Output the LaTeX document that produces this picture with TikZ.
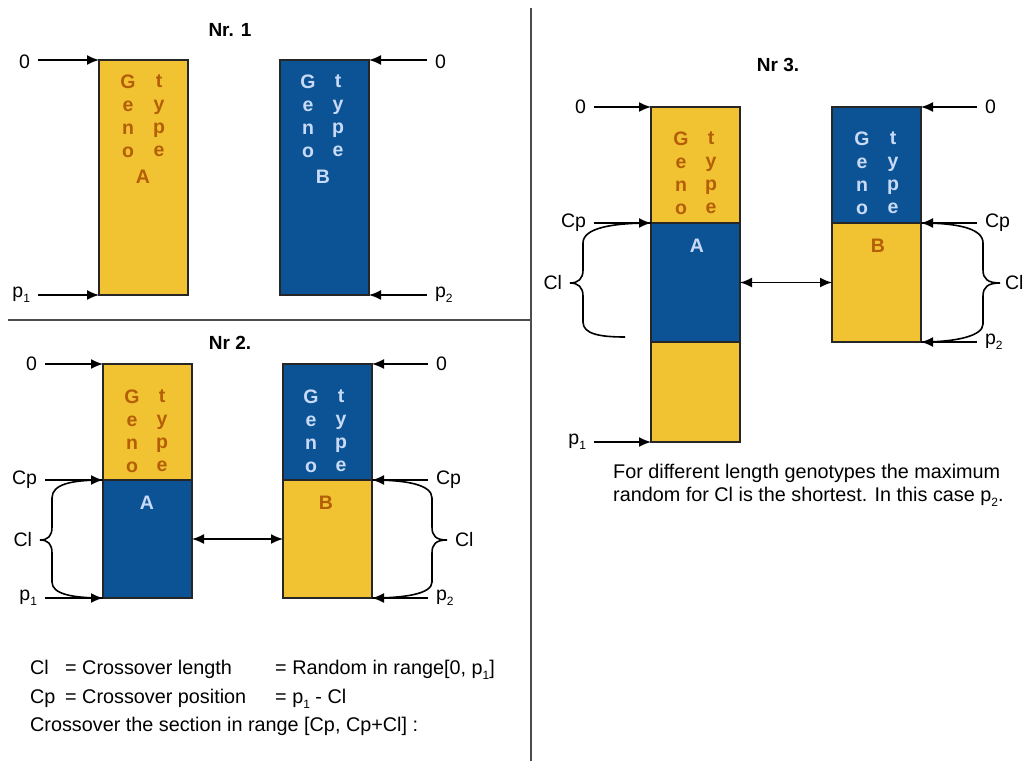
\documentclass[tikz,border=0pt]{standalone}
\usepackage{fontspec}
\setmainfont{Liberation Sans}
\usetikzlibrary{arrows.meta}
\definecolor{gyellow}{HTML}{F1C232}
\definecolor{gblue}{HTML}{0B5394}
\definecolor{gorange}{HTML}{B45F06}
\definecolor{glight}{HTML}{C9DAF8}
\newcommand{\lowsub}[1]{\raisebox{-0.5ex}{\fontsize{12}{12}\selectfont #1}}
\begin{document}
\begin{tikzpicture}[x=1pt,y=-1pt,
   seg/.style={draw=black!85,line width=1.8pt,anchor=north west,minimum width=89,inner sep=0pt,outer sep=0pt},
   yseg/.style={seg,fill=gyellow},
   bseg/.style={seg,fill=gblue},
   otxt/.style={text=gorange,font=\bfseries\fontsize{19.5}{23}\selectfont,align=center},
   ltxt/.style={text=glight,font=\bfseries\fontsize{19.5}{23}\selectfont,align=center},
   lbl/.style={font=\fontsize{19.5}{22}\selectfont,inner sep=1pt,outer sep=7pt},
   ttl/.style={font=\bfseries\fontsize{19}{22}\selectfont},
   txt/.style={font=\fontsize{19.8}{23}\selectfont,anchor=base west,inner sep=0pt},
   arr/.style={-{Latex[length=12pt,width=10pt]},line width=1.6pt},
   dbl/.style={{Latex[length=12pt,width=10pt]}-{Latex[length=12pt,width=10pt]},line width=1.6pt},
   brc/.style={line width=1.6pt},
   sep/.style={draw=black!70,line width=2.2pt}]
\useasboundingbox (0,0) rectangle (1024,761);
\draw[sep] (531,8) -- (531,761);
\draw[sep] (8,320) -- (531,320);

% Nr. 1
\node[ttl] (t1) at (230,30) {Nr. 1};
\node[yseg,minimum height=235] (A1) at (99,60) {};
\node[bseg,minimum height=235] (B1) at (280,60) {};
\node[otxt] (A1g) at (128,116) {G\\e\\n\\o};
\node[otxt] (A1t) at (159,116) {t\\y\\p\\e};
\node[otxt] (A1n) at (143,177) {A};
\node[ltxt] (B1g) at (308,116) {G\\e\\n\\o};
\node[ltxt] (B1t) at (338,116) {t\\y\\p\\e};
\node[ltxt] (B1n) at (323,177) {B};
\node[lbl,anchor=east] (z1) at (38,62) {0};
\node[lbl,anchor=east] (p1a) at (38,295) {p\lowsub{1}};
\node[lbl,anchor=west] (z1r) at (427,62) {0};
\node[lbl,anchor=west] (p2a) at (427,295) {p\lowsub{2}};
\draw[arr] (z1.east |- A1.north west) -- (A1.north west);
\draw[arr] (p1a.east |- A1.south west) -- (A1.south west);
\draw[arr] (z1r.west |- B1.north east) -- (B1.north east);
\draw[arr] (p2a.west |- B1.south east) -- (B1.south east);

% Nr 2.
\node[ttl] (t2) at (230,343) {Nr 2.};
\node[yseg,minimum height=116] (A2t) at (103,364) {};
\node[bseg,minimum height=118] (A2b) at (103,480) {};
\node[bseg,minimum height=116] (B2t) at (283,364) {};
\node[yseg,minimum height=118] (B2b) at (283,480) {};
\node[otxt] (A2g) at (132,431) {G\\e\\n\\o};
\node[otxt] (A2y) at (162,431) {t\\y\\p\\e};
\node[ltxt] (A2n) at (147,503) {A};
\node[ltxt] (B2g) at (311,431) {G\\e\\n\\o};
\node[ltxt] (B2y) at (341,431) {t\\y\\p\\e};
\node[otxt] (B2n) at (326,503) {B};
\node[lbl,anchor=east] (z2) at (45,364) {0};
\node[lbl,anchor=east] (cp2) at (45,480) {Cp};
\node[lbl,anchor=east] (cl2) at (40,540) {Cl};
\node[lbl,anchor=east] (p1b) at (45,598) {p\lowsub{1}};
\node[lbl,anchor=west] (z2r) at (428,364) {0};
\node[lbl,anchor=west] (cp2r) at (428,480) {Cp};
\node[lbl,anchor=west] (cl2r) at (447,540) {Cl};
\node[lbl,anchor=west] (p2b) at (428,598) {p\lowsub{2}};
\draw[arr] (z2.east |- A2t.north west) -- (A2t.north west);
\draw[arr] (cp2.east |- A2b.north west) -- (A2b.north west);
\draw[arr] (p1b.east |- A2b.south west) -- (A2b.south west);
\draw[arr] (z2r.west |- B2t.north east) -- (B2t.north east);
\draw[arr] (cp2r.west |- B2b.north east) -- (B2b.north east);
\draw[arr] (p2b.west |- B2b.south east) -- (B2b.south east);
\draw[brc] (A2b.north west) .. controls (72,480) and (52,484) .. (52,498) -- (52,527)
   .. controls (52,536) and (48,540) .. (cl2.east) .. controls (48,540) and (52,544) .. (52,553)
   -- (52,582) .. controls (52,594) and (72,598) .. (A2b.south west);
\draw[brc] (B2b.north east) .. controls (404,480) and (432,484) .. (432,498) -- (432,527)
   .. controls (432,536) and (436,540) .. (cl2r.west) .. controls (436,540) and (432,544) .. (432,553)
   -- (432,582) .. controls (432,594) and (404,598) .. (B2b.south east);
\draw[dbl] (A2b.east) -- (B2b.west);

\node[txt] (n1) at (30,674) {Cl};
\node[txt] (n2) at (65,674) {= Crossover length};
\node[txt] (n3) at (275,674) {= Random in range[0, p\lowsub{1}]};
\node[txt] (n4) at (30,703) {Cp};
\node[txt] (n5) at (65,703) {= Crossover position};
\node[txt] (n6) at (275,703) {= p\lowsub{1} - Cl};
\node[txt] (n7) at (30,731) {Crossover the section in range [Cp, Cp+Cl] :};

% Nr 3.
\node[ttl] (t3) at (778,65) {Nr 3.};
\node[yseg,minimum height=116] (A3t) at (651,107) {};
\node[bseg,minimum height=119] (A3m) at (651,223) {};
\node[yseg,minimum height=100] (A3b) at (651,342) {};
\node[bseg,minimum height=116] (B3t) at (832,107) {};
\node[yseg,minimum height=119] (B3b) at (832,223) {};
\node[otxt] (A3g) at (681,173) {G\\e\\n\\o};
\node[otxt] (A3y) at (711,173) {t\\y\\p\\e};
\node[ltxt] (A3n) at (697,246) {A};
\node[ltxt] (B3g) at (862,173) {G\\e\\n\\o};
\node[ltxt] (B3y) at (893,173) {t\\y\\p\\e};
\node[otxt] (B3n) at (878,246) {B};
\node[lbl,anchor=east] (z3) at (594,107) {0};
\node[lbl,anchor=east] (cp3) at (594,223) {Cp};
\node[lbl,anchor=east] (cl3) at (570,283) {Cl};
\node[lbl,anchor=east] (p1c) at (594,442) {p\lowsub{1}};
\node[lbl,anchor=west] (z3r) at (977,107) {0};
\node[lbl,anchor=west] (cp3r) at (977,223) {Cp};
\node[lbl,anchor=west,outer sep=4pt] (cl3r) at (1000,283) {Cl};
\node[lbl,anchor=west] (p2c) at (977,342) {p\lowsub{2}};
\coordinate (cl3end) at (625,337);
\draw[arr] (z3.east |- A3t.north west) -- (A3t.north west);
\draw[arr] (cp3.east |- A3m.north west) -- (A3m.north west);
\draw[arr] (p1c.east |- A3b.south west) -- (A3b.south west);
\draw[arr] (z3r.west |- B3t.north east) -- (B3t.north east);
\draw[arr] (cp3r.west |- B3b.north east) -- (B3b.north east);
\draw[arr] (p2c.west |- B3b.south east) -- (B3b.south east);
\draw[brc] (A3m.north west) .. controls (612,223) and (583,228) .. (583,243) -- (583,270)
   .. controls (583,279) and (578,283) .. (cl3.east) .. controls (578,283) and (583,287) .. (583,296)
   -- (583,322) .. controls (583,334) and (600,337) .. (cl3end);
\draw[brc] (B3b.north east) .. controls (956,223) and (983,228) .. (983,243) -- (983,270)
   .. controls (983,279) and (988,283) .. (cl3r.west) .. controls (988,283) and (983,287) .. (983,296)
   -- (983,324) .. controls (983,336) and (956,342) .. (B3b.south east);
\draw[dbl] (A3m.east) -- (B3b.west);
\node[txt,align=left,anchor=north west] (note) at (613,464)
   {For different length genotypes the maximum\\random for Cl is the shortest. In this case p\lowsub{2}.};
\end{tikzpicture}
\end{document}
